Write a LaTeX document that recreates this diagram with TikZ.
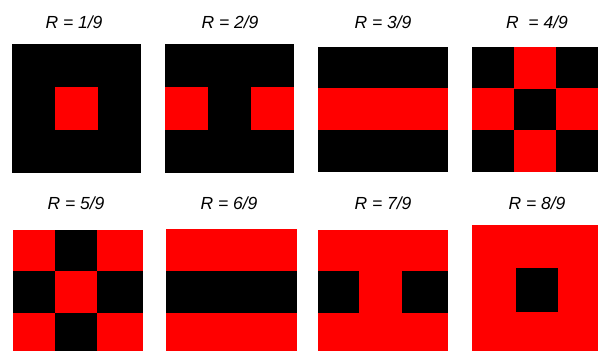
\documentclass[tikz,border=0pt]{standalone}
\usepackage{fontspec}
\setmainfont{Liberation Sans}

\begin{document}
\begin{tikzpicture}[x=1pt, y=-1pt,
    ratio/.style={font=\itshape\fontsize{17.5}{20}\selectfont, inner sep=0pt}]
    \useasboundingbox (0,0) rectangle (598,351);

    % Labels of the upper row
    \node[ratio] (r1) at (74,22) {R = 1/9};
    \node[ratio] (r2) at (230,22) {R = 2/9};
    \node[ratio] (r3) at (383,22) {R = 3/9};
    \node[ratio] (r4) at (537,22) {R~ = 4/9};

    % Labels of the lower row
    \node[ratio] (r5) at (76,203) {R = 5/9};
    \node[ratio] (r6) at (229,203) {R = 6/9};
    \node[ratio] (r7) at (383,203) {R = 7/9};
    \node[ratio] (r8) at (537,203) {R = 8/9};

    % R = 1/9: one red cell in the middle
    \fill[black] (12,44) rectangle (141,173);
    \fill[red] (55,87) rectangle (98,130);

    % R = 2/9: red cells left and right
    \fill[black] (165,44) rectangle (294,173);
    \fill[red] (165,87) rectangle (208,130);
    \fill[red] (251,87) rectangle (294,130);

    % R = 3/9: red middle band
    \fill[black] (318,47) rectangle (448,172);
    \fill[red] (318,88) rectangle (448,130);

    % R = 4/9: red cross around a black centre
    \fill[black] (472,47) rectangle (598,172);
    \foreach \x/\y in {514/47, 472/88, 556/88, 514/130}
        \fill[red] (\x,\y) rectangle ++(42,42);

    % R = 5/9: red corners and centre
    \fill[red] (13,230) rectangle (143,351);
    \fill[black] (55,230) rectangle (97,271);
    \fill[black] (13,271) rectangle (55,313);
    \fill[black] (97,271) rectangle (143,313);
    \fill[black] (55,313) rectangle (97,351);

    % R = 6/9: black middle band
    \fill[red] (166,229) rectangle (297,351);
    \fill[black] (166,271) rectangle (297,313);

    % R = 7/9: black cells left and right
    \fill[red] (318,230) rectangle (448,351);
    \fill[black] (318,271) rectangle (359,313);
    \fill[black] (402,271) rectangle (448,313);

    % R = 8/9: one black cell in the middle
    \fill[red] (472,225) rectangle (598,351);
    \fill[black] (516,268) rectangle (558,312);
\end{tikzpicture}
\end{document}
